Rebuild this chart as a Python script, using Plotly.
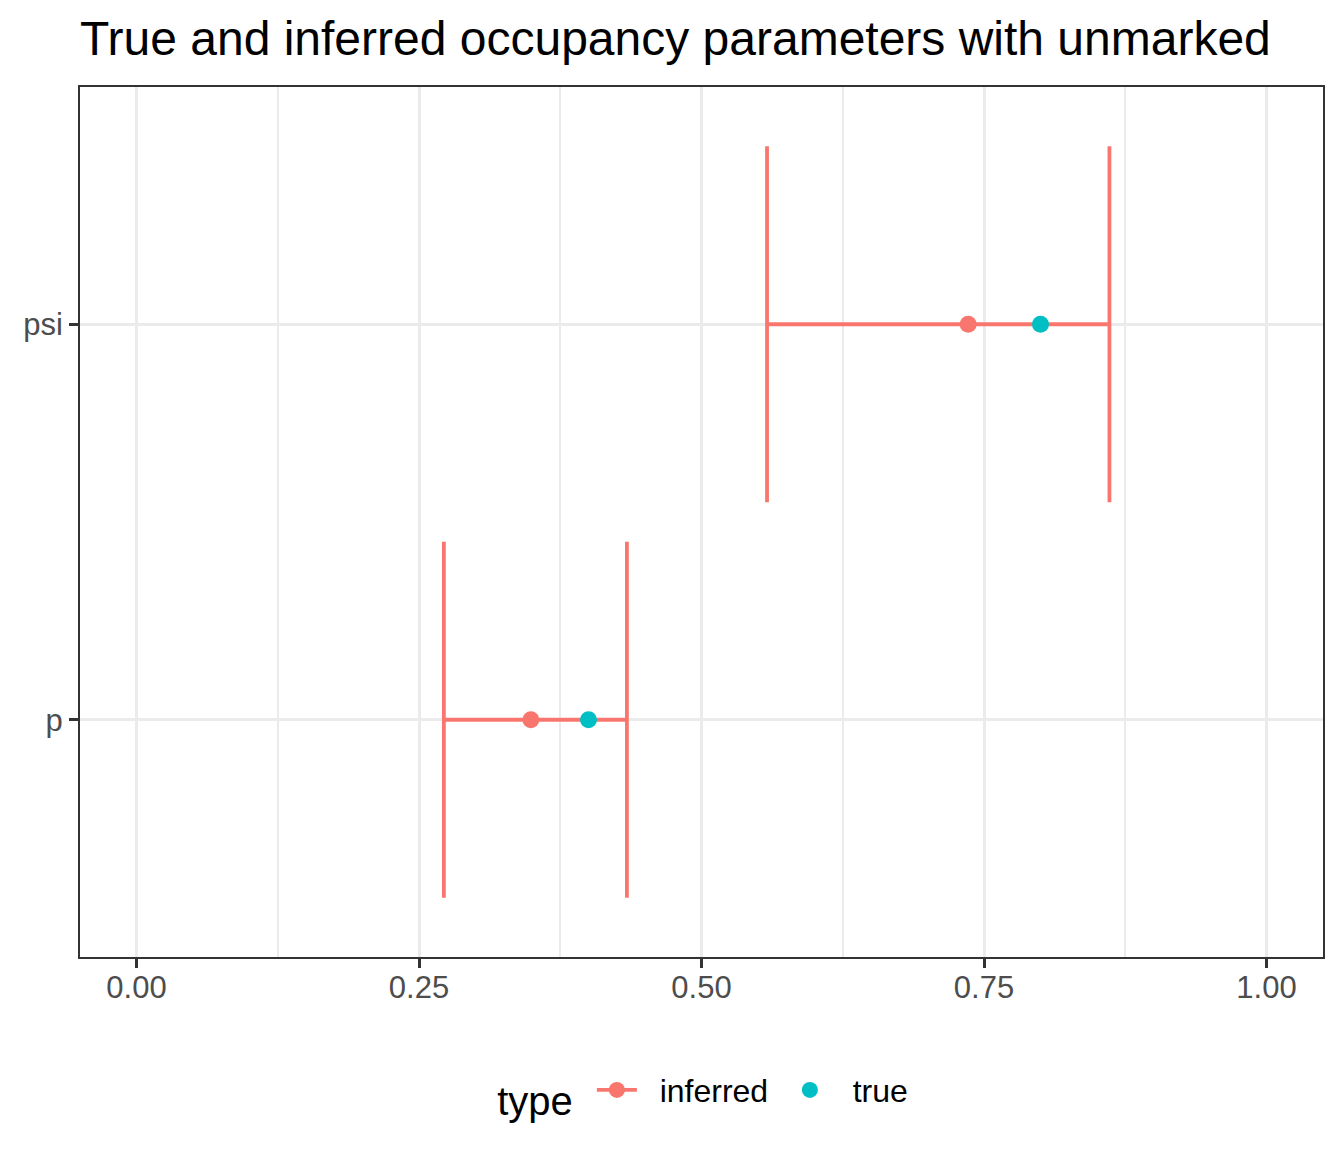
import plotly.graph_objects as go

# ---- data ----
params = ["p", "psi"]
inferred = [0.349, 0.736]
lower = [0.272, 0.558]
upper = [0.434, 0.861]
true_vals = [0.400, 0.800]
x_ticks = [0.0, 0.25, 0.5, 0.75, 1.0]
x_tick_labels = ["0.00", "0.25", "0.50", "0.75", "1.00"]
series_names = ["inferred", "true"]

RED = "#F8766D"
CYAN = "#00BFC4"
FONT = "Liberation Sans, Arial, sans-serif"
CAP = 0.45  # half of ggplot errorbar height (0.9)
PAD = "&nbsp;&nbsp;"

ypos = [i + 1 for i in range(len(params))]

# error bar segments
ex, ey = [], []
for lo, hi, y in zip(lower, upper, ypos):
    ex += [lo, hi, None, lo, lo, None, hi, hi, None]
    ey += [y, y, None, y - CAP, y + CAP, None, y - CAP, y + CAP, None]

fig = go.Figure()
fig.add_trace(go.Scatter(
    x=ex, y=ey, mode="lines", line=dict(color=RED, width=3.8),
    showlegend=False, hoverinfo="skip", connectgaps=False))

# inferred points (with None gaps so the legend shows line + point)
ix, iy = [], []
for v, y in zip(inferred, ypos):
    ix += [v, None]
    iy += [y, None]
fig.add_trace(go.Scatter(
    x=ix, y=iy, mode="lines+markers", name=PAD + series_names[0],
    line=dict(color=RED, width=3.8), connectgaps=False,
    marker=dict(color=RED, size=17)))
fig.add_trace(go.Scatter(
    x=true_vals, y=ypos, mode="markers", name=PAD + series_names[1],
    marker=dict(color=CYAN, size=17)))

fig.update_layout(
    width=1336, height=1144,
    paper_bgcolor="white", plot_bgcolor="white",
    margin=dict(l=72, r=21, t=79, b=195),
    font=dict(family=FONT, color="#4D4D4D"),
    title=dict(text="True and inferred occupancy parameters with unmarked",
               font=dict(family=FONT, size=48, color="black"),
               x=0, xref="paper", xanchor="left",
               y=1 - 30 / 1144, yref="container", yanchor="middle"),
    xaxis=dict(range=[-0.05, 1.05], tickvals=x_ticks, ticktext=x_tick_labels,
               showgrid=True, gridcolor="#EBEBEB", gridwidth=3,
               minor=dict(dtick=0.125, tick0=0, showgrid=True, gridcolor="#EBEBEB",
                          gridwidth=1.5, ticks=""),
               ticks="outside", ticklen=9, tickwidth=2.5, tickcolor="#333333",
               ticklabelstandoff=-7,
               tickfont=dict(family=FONT, size=31, color="#4D4D4D"),
               showline=True, linecolor="#333333", linewidth=2, mirror=True,
               zeroline=False),
    yaxis=dict(range=[0.4, 2.6], tickvals=ypos, ticktext=params,
               showgrid=True, gridcolor="#EBEBEB", gridwidth=3,
               ticks="outside", ticklen=9, tickwidth=2.5, tickcolor="#333333",
               tickfont=dict(family=FONT, size=31, color="#4D4D4D"),
               showline=True, linecolor="#333333", linewidth=2, mirror=True,
               zeroline=False),
    legend=dict(orientation="h", x=0.334, xanchor="left", y=-0.157, yanchor="middle",
                title=dict(text="type&nbsp;", font=dict(family=FONT, size=40, color="black")),
                font=dict(family=FONT, size=32, color="black"),
                itemwidth=40, entrywidth=138, entrywidthmode="pixels"),
)

fig.write_html("out.html")
